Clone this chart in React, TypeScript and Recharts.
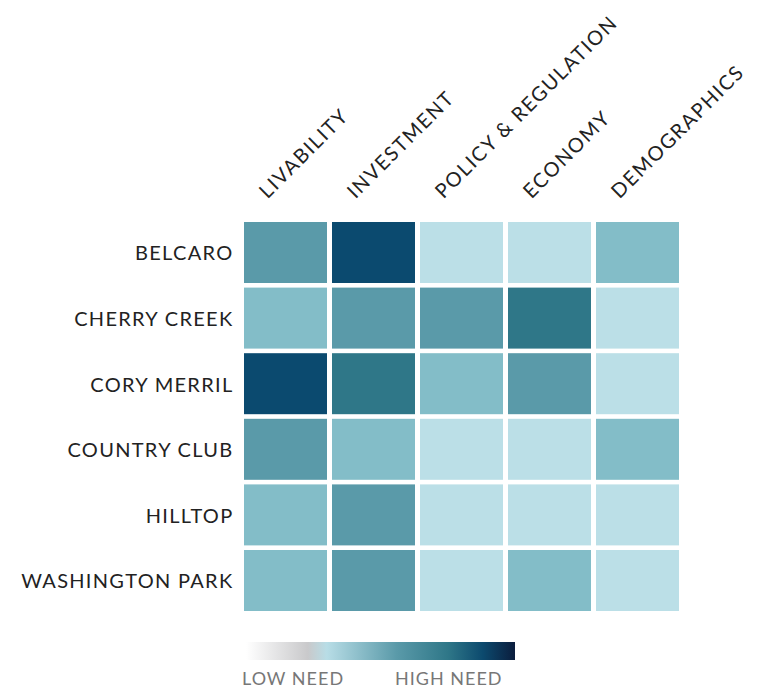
import React from 'react';
import { BarChart, Bar, XAxis, YAxis, Cell } from 'recharts';

const neighborhoods = ['BELCARO', 'CHERRY CREEK', 'CORY MERRIL', 'COUNTRY CLUB', 'HILLTOP', 'WASHINGTON PARK'];
const dimensions = ['LIVABILITY', 'INVESTMENT', 'POLICY & REGULATION', 'ECONOMY', 'DEMOGRAPHICS'];

// need level (1 = low, 5 = high) per dimension, ordered as neighborhoods
const livability = [3, 2, 5, 3, 2, 2];
const investment = [5, 3, 4, 2, 3, 3];
const policy = [1, 3, 2, 1, 1, 1];
const economy = [1, 4, 3, 1, 1, 2];
const demographics = [2, 1, 1, 2, 1, 1];

const levels = [livability, investment, policy, economy, demographics];
const levelColors = ['#bbdfe7', '#83bdc8', '#5a9aa9', '#2f7788', '#0b4a6f'];

const legendLabels = ['LOW NEED', 'HIGH NEED'];

const FONT = 'Lato, "Open Sans", sans-serif';

const tableData = neighborhoods.map((name, r) => {
  const row: Record<string, any> = { name };
  dimensions.forEach((d, c) => {
    row['w' + c] = 1;
    row['lvl' + c] = levels[c][r];
  });
  return row;
});

const CellShape = (props: any) => {
  const { x, y, width, height, fill } = props;
  const g = 2.5;
  return <rect x={x + g} y={y + g} width={Math.max(0, width - 2 * g)} height={Math.max(0, height - 2 * g)} fill={fill} />;
};

const YTick = (props: any) => {
  const { x, y, payload } = props;
  return (
    <text x={x} y={y} textAnchor="end" dominantBaseline="central" fontFamily={FONT} fontSize={20} letterSpacing={1.3} fill="#222">
      {payload.value}
    </text>
  );
};

const XTick = (props: any) => {
  const { x, y, index } = props;
  return (
    <text
      transform={`translate(${x - 18}, ${y - 12}) rotate(-45)`}
      x={0}
      y={0}
      textAnchor="start"
      fontFamily={FONT}
      fontSize={20}
      letterSpacing={1.6}
      fill="#222"
    >
      {dimensions[index]}
    </text>
  );
};

export default function App() {
  return (
    <div style={{ position: 'relative', width: 775, height: 680 }}>
      <BarChart
        width={775}
        height={680}
        data={tableData}
        layout="vertical"
        barCategoryGap={0}
        margin={{ top: 0, right: 101.5, bottom: 74.9, left: 0 }}
      >
        <XAxis
          type="number"
          orientation="top"
          domain={[0, 5]}
          ticks={[0.5, 1.5, 2.5, 3.5, 4.5]}
          height={211.5}
          axisLine={false}
          tickLine={false}
          tick={<XTick />}
          interval={0}
        />
        <YAxis
          type="category"
          dataKey="name"
          width={233.5}
          axisLine={false}
          tickLine={false}
          tick={<YTick />}
          interval={0}
        />
        {dimensions.map((d, c) => (
          <Bar key={d} dataKey={'w' + c} stackId="grid" isAnimationActive={false} shape={<CellShape />}>
            {tableData.map((row, r) => (
              <Cell key={r} fill={levelColors[row['lvl' + c] - 1]} />
            ))}
          </Bar>
        ))}
      </BarChart>
      <div style={{ position: 'absolute', left: 222, top: 622 }}>
        <svg width={320} height={60} style={{ display: 'block' }}>
          <defs>
            <linearGradient id="needGrad" x1="0" x2="1" y1="0" y2="0">
              <stop offset="0%" stopColor="#ffffff" />
              <stop offset="23%" stopColor="#c9c9cb" />
              <stop offset="30%" stopColor="#b8dde6" />
              <stop offset="56%" stopColor="#5a9aa9" />
              <stop offset="75%" stopColor="#2f7788" />
              <stop offset="88%" stopColor="#0c4a6e" />
              <stop offset="100%" stopColor="#0b1d3d" />
            </linearGradient>
          </defs>
          <rect x={16} y={12} width={269} height={18} fill="url(#needGrad)" />
          <text x={12} y={55} fontFamily={FONT} fontSize={18} letterSpacing={1} fill="#777">{legendLabels[0]}</text>
          <text x={165} y={55} fontFamily={FONT} fontSize={18} letterSpacing={1} fill="#777">{legendLabels[1]}</text>
        </svg>
      </div>
    </div>
  );
}
